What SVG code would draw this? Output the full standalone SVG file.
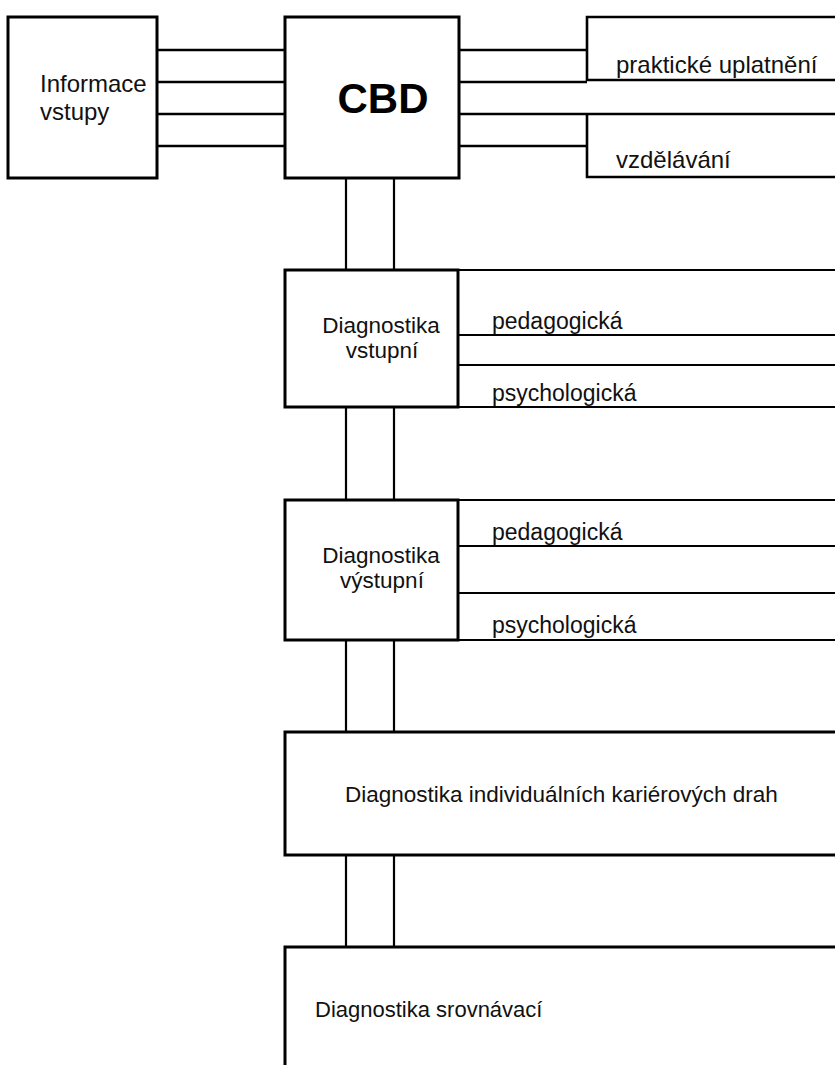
<svg xmlns="http://www.w3.org/2000/svg" width="835" height="1065" viewBox="0 0 835 1065">
<style>
.box{fill:none;stroke:#000;stroke-width:3}
.ln{fill:none;stroke:#000;stroke-width:2.6}
.thin{fill:none;stroke:#000;stroke-width:2.2}
text{font-family:"Liberation Sans","Arial",sans-serif;font-size:22.5px;fill:#111}
.top{font-size:24px}
.sub{font-size:23px}
.c{text-anchor:middle}
.big{font-size:42px;font-weight:bold;fill:#000}
</style>
<rect width="835" height="1065" fill="#fff"/>
<g id="connectors">
<path class="ln" d="M157 50H285M157 82H285M157 114H285M157 146H285"/>
<path class="ln" d="M459 50H587M459 82H587M459 114H835M459 146H587"/>
<path class="thin" d="M346 178V270M394 178V270M346 408V500M394 408V500M346 640V732M394 640V732M346 855V947M394 855V947"/>
</g>
<g id="informace">
<rect class="box" x="8" y="17" width="149" height="161"/>
<text class="top" x="40" y="92">Informace</text>
<text class="top" x="40" y="120">vstupy</text>
</g>
<g id="cbd">
<rect class="box" x="285" y="17" width="174" height="161"/>
<text class="big c" x="383" y="113">CBD</text>
</g>
<g id="prakticke">
<path class="ln" d="M835 17H587V80H835"/>
<text class="top" x="616" y="73">praktické uplatnění</text>
</g>
<g id="vzdelavani">
<path class="ln" d="M587 114V177H835"/>
<text class="top" x="616" y="168">vzdělávání</text>
</g>
<g id="diag-vstupni">
<rect class="box" x="285" y="270" width="173" height="137"/>
<path class="thin" d="M458 270H835M458 335H835M458 365H835M458 407H835"/>
<text class="c" x="381" y="333">Diagnostika</text>
<text class="c" x="382" y="358">vstupní</text>
<text class="sub" x="492" y="329">pedagogická</text>
<text class="sub" x="492" y="401">psychologická</text>
</g>
<g id="diag-vystupni">
<rect class="box" x="285" y="500" width="173" height="140"/>
<path class="thin" d="M458 500H835M458 546H835M458 593H835M458 640H835"/>
<text class="c" x="381" y="563">Diagnostika</text>
<text class="c" x="382" y="588">výstupní</text>
<text class="sub" x="492" y="540">pedagogická</text>
<text class="sub" x="492" y="633">psychologická</text>
</g>
<g id="diag-individualnich">
<path class="box" d="M835 732H285V855H835"/>
<text x="345" y="802">Diagnostika individuálních kariérových drah</text>
</g>
<g id="diag-srovnavaci">
<path class="box" d="M835 947H285V1065"/>
<text x="315" y="1017" style="font-size:22px">Diagnostika srovnávací</text>
</g>
</svg>
